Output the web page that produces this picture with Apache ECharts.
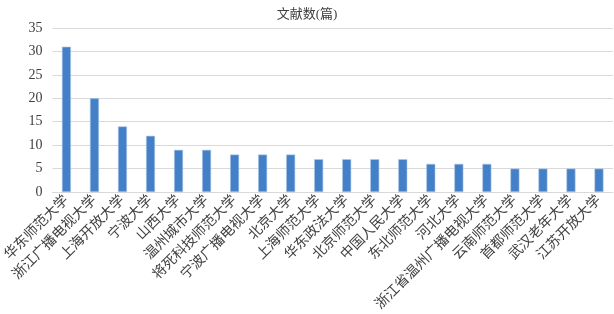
<!DOCTYPE html>
<html>
<head>
<meta charset="utf-8">
<script src="https://cdn.jsdelivr.net/npm/echarts@6/dist/echarts.min.js"></script>
<style>
  html, body { margin: 0; padding: 0; background: #fff; }
  #chart { width: 614px; height: 314px; }
</style>
</head>
<body>
<div id="chart"></div>
<script>
var categories = ['华东师范大学', '浙江广播电视大学', '上海开放大学', '宁波大学', '山西大学',
  '温州城市大学', '将死科技师范大学', '宁波广播电视大学', '北京大学', '上海师范大学',
  '华东政法大学', '北京师范大学', '中国人民大学', '东北师范大学', '河北大学',
  '浙江省温州广播电视大学', '云南师范大学', '首都师范大学', '武汉老年大学', '江苏开放大学'];
var counts = [31, 20, 14, 12, 9, 9, 8, 8, 8, 7, 7, 7, 7, 6, 6, 6, 5, 5, 5, 5];
var yTicks = [0, 5, 10, 15, 20, 25, 30, 35];

var myChart = echarts.init(document.getElementById('chart'));
var fontFam = '"Liberation Serif", "DejaVu Serif", "Noto Sans CJK SC", serif';
var option = {
  backgroundColor: '#fff',
  animation: false,
  title: {
    text: '文献数(篇)',
    left: 'center',
    top: 3,
    textStyle: { fontFamily: fontFam, fontSize: 13, fontWeight: 'normal', color: '#404040' }
  },
  grid: { left: 51, right: 1, top: 28, bottom: 121 },
  xAxis: {
    type: 'category',
    data: categories,
    axisLine: { lineStyle: { color: '#d9d9d9', width: 1 } },
    axisTick: { show: false },
    axisLabel: {
      interval: 0,
      rotate: 45,
      margin: 6,
      fontFamily: fontFam,
      fontSize: 14,
      color: '#404040'
    }
  },
  yAxis: {
    type: 'value',
    min: yTicks[0],
    max: yTicks[yTicks.length - 1],
    interval: 5,
    axisLine: { show: false },
    axisTick: { show: false },
    axisLabel: { fontFamily: fontFam, fontSize: 14, color: '#404040', margin: 10 },
    splitLine: { lineStyle: { color: '#d9d9d9', width: 1 } }
  },
  series: [{
    type: 'bar',
    data: counts,
    barWidth: 9,
    itemStyle: { color: '#4480c8', borderColor: '#a9c4e8', borderWidth: 0.6 }
  }]
};
myChart.setOption(option);
</script>
</body>
</html>
